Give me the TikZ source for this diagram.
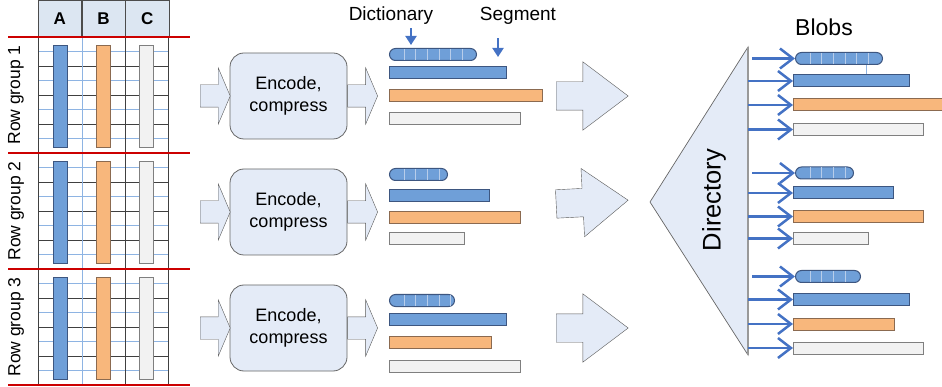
\documentclass[tikz,border=0pt]{standalone}
\usepackage{fontspec}
\setmainfont{Liberation Sans}
\usepackage{tikz}
\usetikzlibrary{shapes,arrows,arrows.meta,positioning,calc,fit}
\definecolor{dpblue}{RGB}{111,159,216}
\definecolor{dpblue2}{RGB}{61,86,128}
\definecolor{dpblue3}{RGB}{228,235,247}
\definecolor{dphead}{RGB}{220,230,242}
\definecolor{dpgrid}{RGB}{142,180,227}
\definecolor{dporange}{RGB}{248,183,124}
\definecolor{dporange2}{RGB}{139,106,80}
\definecolor{dpgray}{RGB}{242,242,242}
\definecolor{dpgray2}{RGB}{127,127,127}
\definecolor{dparrow}{RGB}{68,114,196}
\definecolor{dpred}{RGB}{204,0,0}
\definecolor{dpstripe}{RGB}{184,205,234}

\tikzset{
  bar/.style={draw, rectangle, inner sep=0pt, minimum height=12pt, anchor=west, line width=1pt},
  bluebar/.style={bar, fill=dpblue, draw=dpblue2},
  orangebar/.style={bar, fill=dporange, draw=dporange2},
  graybar/.style={bar, fill=dpgray, draw=dpgray2},
  dictbar/.style={bluebar, rounded corners=6pt},
  colbar/.style={draw, rectangle, inner sep=0pt, minimum width=14pt, minimum height=102pt, anchor=north, line width=1pt},
  hdcell/.style={draw=black!70, fill=dphead, rectangle, inner sep=0pt, minimum width=43.3pt, minimum height=37pt, font=\fontsize{17}{20}\selectfont\bfseries},
  encbox/.style={draw=black!60, fill=dpblue3, rounded corners=14pt, minimum width=117pt, minimum height=86pt, align=center, font=\fontsize{18}{22}\selectfont, line width=0.8pt},
  smallarrow/.style={single arrow, draw=black!65, fill=dpblue3, inner xsep=0pt, inner ysep=11pt, minimum height=30pt, single arrow head extend=17pt, single arrow tip angle=134, anchor=tail},
  bigarrow/.style={single arrow, draw=black!65, fill=dpblue3, inner xsep=0pt, inner ysep=14pt, minimum height=72pt, single arrow head extend=20pt, single arrow tip angle=74, anchor=tail},
  blobarrow/.style={draw=dparrow, line width=2.5pt, -{Straight Barb[length=13pt, width=20pt]}},
  ptr/.style={draw=dparrow, line width=2pt, -{Triangle[length=9pt, width=11pt]}},
  stripe/.style={draw=dpstripe, line width=0.8pt},
}

\begin{document}
\begin{tikzpicture}[x=1pt, y=-1pt]
  \useasboundingbox (0,0) rectangle (942,387);

  % Table header
  \node[hdcell, anchor=north west] (hdA) at (38,0) {A};
  \node[hdcell, right=0pt of hdA] (hdB) {B};
  \node[hdcell, right=0pt of hdB] (hdC) {C};

  % Table rows
  \foreach \t in {37,153,269} {
    \foreach \d in {14.5,43.5,72.5,101.5}
      \draw[dpgrid, line width=0.8pt] (38,\t+\d) -- (168,\t+\d);
    \foreach \d in {29,58,87}
      \draw[black!75, line width=0.8pt] (38,\t+\d) -- (168,\t+\d);
  }
  \draw[dpgrid, line width=0.8pt] (82,37) -- (82,386);
  \foreach \x in {38,125,168}
    \draw[black!75, line width=0.8pt] (\x,37) -- (\x,386);

  % Row groups
  \foreach \t/\g in {37/1,153/2,269/3} {
    \node[colbar, fill=dpblue, draw=dpblue2] (colA\g) at (60,\t+8) {};
    \node[colbar, fill=dporange, draw=dporange2] (colB\g) at (103.5,\t+8) {};
    \node[colbar, fill=dpgray, draw=dpgray2] (colC\g) at (146.5,\t+8) {};
    \node[rotate=90, font=\fontsize{17.5}{20}\selectfont] (rg\g) at (16,\t+58) {Row group \g};
  }
  \foreach \y in {37,153,269,385}
    \draw[dpred, line width=2pt] (8,\y) -- (190,\y);

  % Encode boxes and block arrows
  \foreach \c/\g in {96/1,212/2,328/3} {
    \node[encbox] (enc\g) at (288.5,\c) {Encode,\\compress};
    \node[smallarrow] (in\g) at (200,\c) {};
    \node[smallarrow] (out\g) at (enc\g.east) {};
  }
  \node[bigarrow] (big1) at (556,96) {};
  \node[bigarrow, rotate=3] (big2) at (556,204) {};
  \node[bigarrow] (big3) at (556,328) {};

  % Segments
  \foreach \g/\ya/\yb/\yc/\yd/\la/\lb/\lc/\ld/\n in
    {1/54.5/73/96/119/87/117/153/131/6,
     2/174.5/196/217.5/239/58/100/131/75/4,
     3/300.5/319/342.5/366/65/117/102/131/5} {
    \node[dictbar, minimum width=\la pt] (dict\g) at (389,\ya) {};
    \foreach \i in {1,...,\n}
      \draw[stripe] ([xshift=3.3pt+11.67pt*\i, yshift=1pt]dict\g.south west) -- ([xshift=3.3pt+11.67pt*\i, yshift=-1pt]dict\g.north west);
    \node[bluebar, minimum width=\lb pt] (seg\g) at (389,\yb) {};
    \node[orangebar, minimum width=\lc pt] (sego\g) at (389,\yc) {};
    \node[graybar, minimum width=\ld pt] (segg\g) at (389,\yd) {};
  }

  % Labels for segments
  \node[font=\fontsize{19}{22}\selectfont] (dictlbl) at (391,16) {Dictionary};
  \node[font=\fontsize{19}{22}\selectfont] (seglbl) at (518,16) {Segment};
  \coordinate (dicttip) at (411,45);
  \coordinate (segtip) at (498,57);
  \draw[ptr] (dicttip |- dictlbl.south) -- (dicttip);
  \draw[ptr] ($(segtip |- seglbl.south)+(0,10)$) -- (segtip);

  % Directory
  \coordinate (dirtip) at (650,202);
  \coordinate (dirtop) at (748,47);
  \coordinate (dirbot) at (748,355);
  \draw[draw=black!60, fill=dpblue3, line width=0.7pt] (dirtip) -- (dirtop) -- (dirbot) -- cycle;
  \draw[draw=black!40, line width=2pt] (dirtop) -- (dirbot);
  \node[rotate=90, font=\fontsize{25.5}{28}\selectfont] (dirlbl) at (714,200) {Directory};

  % Blobs
  \node[font=\fontsize{23}{26}\selectfont] (bloblbl) at (824,27) {Blobs};
  \foreach \g/\ya/\yb/\yc/\yd/\la/\lb/\lc/\ld/\n in
    {1/58.5/81/105/129.5/87/116/152/130/6,
     2/173/193/216.5/238.5/58/100/130/75/4,
     3/276.5/299.5/324/348/65/116/101/130/4} {
    \node[dictbar, minimum width=\la pt] (bdict\g) at (795,\ya) {};
    \foreach \i in {1,...,\n}
      \draw[stripe] ([xshift=3.3pt+11.67pt*\i, yshift=1pt]bdict\g.south west) -- ([xshift=3.3pt+11.67pt*\i, yshift=-1pt]bdict\g.north west);
    \node[bluebar, minimum width=\lb pt] (bblue\g) at (793,\yb) {};
    \node[orangebar, minimum width=\lc pt] (borange\g) at (793,\yc) {};
    \node[graybar, minimum width=\ld pt] (bgray\g) at (793,\yd) {};
    \draw[blobarrow] ($(dirtop |- bdict\g.west)+(4,0)$) -- (bdict\g.west);
    \draw[blobarrow] (dirtop |- bblue\g.west) -- (bblue\g.west);
    \draw[blobarrow] (dirtop |- borange\g.west) -- (borange\g.west);
    \draw[blobarrow] (dirtop |- bgray\g.west) -- (bgray\g.west);
  }
  \draw[dpgrid, line width=0.6pt] ([xshift=71pt]bdict1.south west) -- ([xshift=73pt]bblue1.north west);
\end{tikzpicture}
\end{document}
